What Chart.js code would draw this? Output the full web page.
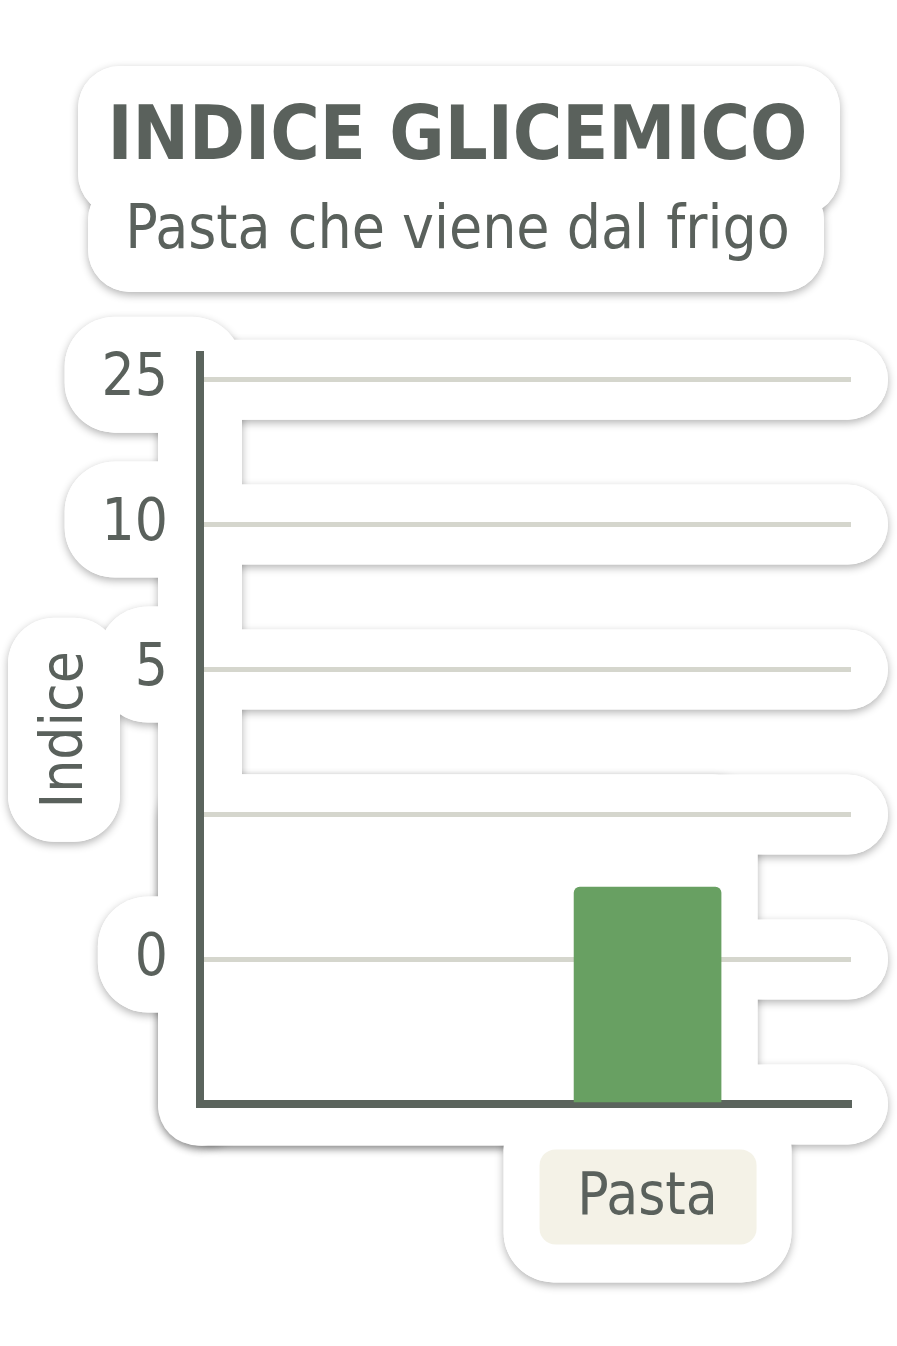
<!DOCTYPE html>
<html>
<head>
<meta charset="utf-8">
<title>Indice glicemico</title>
<script src="https://cdn.jsdelivr.net/npm/chart.js@4.4.1/dist/chart.umd.min.js"></script>
<style>
  html, body { margin: 0; padding: 0; background: #fff; }
  #wrap { width: 897px; height: 1346px; }
</style>
</head>
<body>
<div id="wrap"><canvas id="chart" width="897" height="1346"></canvas></div>
<script>
// data
const categories = ['', '', '', '', '', 'Pasta', '', ''];
const indiceValues = [null, null, null, null, null, 1.5, null, null];
const tickPositions = [0, 1, 2, 3, 4, 5];
const tickLabels = ['', '0', '', '5', '10', '25'];

const TEXT = '#5a615c';
const AXIS = '#5b645d';
const GRID = '#d5d6cd';
const BAR = '#68a062';
const LABEL_FONT = "'DejaVu Sans Condensed', 'DejaVu Sans', sans-serif";

// white "sticker" blobs with a soft shadow behind every element
const stickerPlugin = {
  id: 'stickers',
  beforeDraw(chart) {
    const ctx = chart.ctx;
    const y = chart.scales.y;
    const x = chart.scales.x;
    const area = chart.chartArea;
    const shapes = [];

    // title block
    shapes.push([78, 66, 762, 150, 42]);
    shapes.push([88, 178, 736, 114, 42]);

    // vertical strip along the axis
    const bandTop = y.getPixelForValue(tickPositions[tickPositions.length - 1]) - 40;
    shapes.push([158, bandTop - 10, 84, area.bottom + 41 - bandTop + 10, 40]);

    // one band per grid line, axis included
    tickPositions.forEach(v => {
      const py = y.getPixelForValue(v);
      shapes.push([180, py - 40, 708, 80, 40]);
    });

    // plot body around the bar
    const barX = x.getPixelForValue(categories.indexOf('Pasta'));
    const body = y.getPixelForValue(2) - 40;
    shapes.push([158, body, barX + 110 - 158, area.bottom + 41 - body, 44]);

    // tick label blobs
    ctx.save();
    ctx.font = '58px ' + LABEL_FONT;
    tickPositions.forEach((v, i) => {
      if (!tickLabels[i]) return;
      const w = ctx.measureText(tickLabels[i]).width;
      const py = y.getPixelForValue(v);
      shapes.push([167 - w - 36, py - 63, 242 - (167 - w - 36), 116, 50]);
    });
    ctx.restore();

    // axis title blob, centred on the title
    const midY = (area.top + area.bottom) / 2;
    shapes.push([8, midY - 112, 112, 224, 46]);

    // category label blob
    shapes.push([barX - 144, area.bottom - 4, 288, 182, 50]);

    ctx.save();
    ctx.fillStyle = '#fff';
    ctx.fillRect(0, 0, chart.width, chart.height);
    ctx.shadowColor = 'rgba(0,0,0,0.30)';
    ctx.shadowBlur = 9;
    ctx.shadowOffsetY = 3;
    shapes.forEach(s => { ctx.beginPath(); ctx.roundRect(s[0], s[1], s[2], s[3], s[4]); ctx.fill(); });
    ctx.shadowColor = 'transparent';
    shapes.forEach(s => { ctx.beginPath(); ctx.roundRect(s[0], s[1], s[2], s[3], s[4]); ctx.fill(); });

    // beige box behind the category label
    ctx.fillStyle = '#f4f2e7';
    ctx.beginPath();
    ctx.roundRect(barX - 108, area.bottom + 45, 217, 95, 16);
    ctx.fill();
    ctx.restore();
  }
};

new Chart(document.getElementById('chart'), {
  type: 'bar',
  data: {
    labels: categories,
    datasets: [{
      label: 'Indice',
      data: indiceValues,
      backgroundColor: BAR,
      barThickness: 147,
      borderRadius: { topLeft: 6, topRight: 6 },
      borderSkipped: 'bottom'
    }]
  },
  options: {
    responsive: false,
    animation: false,
    devicePixelRatio: 1,
    layout: { padding: { left: 18, right: 0, top: 0, bottom: 52 } },
    plugins: {
      legend: { display: false },
      tooltip: { enabled: false },
      title: {
        display: true,
        text: 'INDICE GLICEMICO',
        color: TEXT,
        font: { family: LABEL_FONT, size: 75, weight: 'bold', lineHeight: 1.2 },
        padding: { top: 95, bottom: 0 }
      },
      subtitle: {
        display: true,
        text: 'Pasta che viene dal frigo',
        color: TEXT,
        font: { family: LABEL_FONT, size: 60, lineHeight: 1.2 },
        padding: { top: 11, bottom: 87 }
      }
    },
    scales: {
      x: {
        grid: { display: false, drawTicks: false },
        border: { display: true, color: AXIS, width: 8 },
        ticks: {
          color: TEXT,
          font: { family: LABEL_FONT, size: 58, lineHeight: 1.2 },
          padding: 60,
          autoSkip: false,
          maxRotation: 0,
          minRotation: 0
        }
      },
      y: {
        min: 0,
        max: 5.17,
        afterFit(scale) { scale.width = 182; },
        afterBuildTicks(scale) { scale.ticks = tickPositions.map(v => ({ value: v })); },
        grid: { color: GRID, lineWidth: 5, drawTicks: false },
        border: { display: true, color: AXIS, width: 8 },
        ticks: {
          color: TEXT,
          font: { family: LABEL_FONT, size: 58, lineHeight: 1.2 },
          padding: 32,
          callback: (v, i) => tickLabels[i]
        },
        title: {
          display: true,
          text: 'Indice',
          color: TEXT,
          font: { family: LABEL_FONT, size: 58, lineHeight: 1.2 },
          padding: { top: 14, bottom: 0 }
        }
      },
      y2: {
        position: 'right',
        afterFit(scale) { scale.width = 46; },
        grid: { display: false, drawTicks: false },
        border: { display: false },
        ticks: { display: false }
      }
    }
  },
  plugins: [stickerPlugin]
});
</script>
</body>
</html>
